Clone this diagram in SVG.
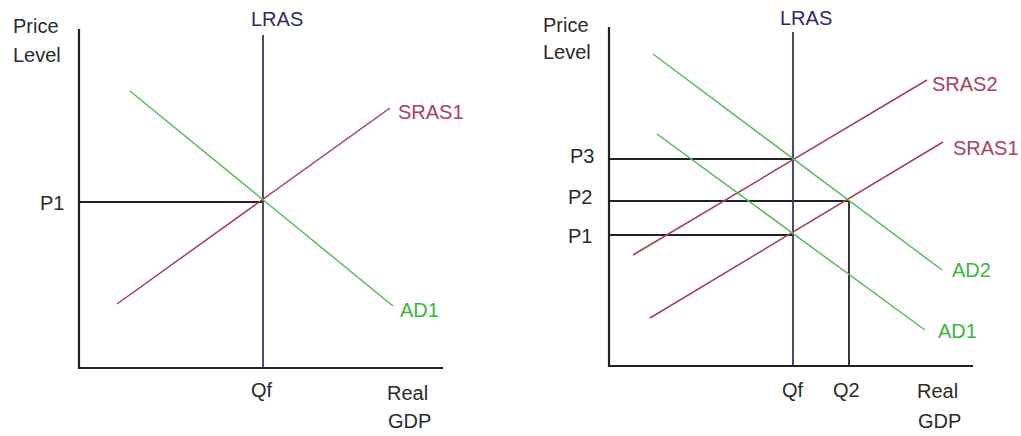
<svg xmlns="http://www.w3.org/2000/svg" width="1021" height="436" viewBox="0 0 1021 436">
<style>
text{font-family:"Liberation Sans",Arial,sans-serif;font-size:20px;fill:#2a2a2a}
.ax{stroke:#222;stroke-width:2.2;fill:none}
.ref{stroke:#222;stroke-width:1.8;fill:none}
.lras{stroke:#36366e;stroke-width:1.8;fill:none}
.sras{stroke:#a8404e;stroke-width:1.5;fill:none}
.ad{stroke:#5cba5c;stroke-width:1.5;fill:none}
text.tl{fill:#2d2d66}
text.ts{fill:#a8425a}
text.ta{fill:#3cb43c}
</style>
<rect width="1021" height="436" fill="#fff"/>
<g id="left-chart">
  <g id="connectors-left">
    <line class="ref" x1="79" y1="202" x2="263" y2="202"/>
    <line class="lras" x1="263" y1="35" x2="263" y2="367"/>
    <line class="sras" x1="117" y1="304" x2="390" y2="108"/>
    <line class="ad" x1="130" y1="91" x2="393" y2="306"/>
    <path class="ax" d="M79 29 V368 H443"/>
  </g>
  <g id="left-labels">
    <text x="13" y="33">Price</text>
    <text x="13" y="62">Level</text>
    <text class="tl" x="251" y="26">LRAS</text>
    <text x="40" y="210">P1</text>
    <text class="ts" x="398" y="119">SRAS1</text>
    <text class="ta" x="400" y="317">AD1</text>
    <text x="251" y="397">Qf</text>
    <text x="387" y="400">Real</text>
    <text x="388" y="428">GDP</text>
  </g>
</g>
<g id="right-chart">
  <g id="connectors-right">
    <line class="ref" x1="609" y1="159" x2="793" y2="159"/>
    <line class="ref" x1="609" y1="201" x2="849" y2="201"/>
    <line class="ref" x1="609" y1="235" x2="793" y2="235"/>
    <line class="ref" x1="849" y1="201" x2="849" y2="365"/>
    <line class="lras" x1="793" y1="32" x2="793" y2="365"/>
    <line class="sras" x1="633" y1="255" x2="927" y2="80"/>
    <line class="sras" x1="650" y1="318" x2="943" y2="142"/>
    <line class="ad" x1="653" y1="54" x2="942" y2="270"/>
    <line class="ad" x1="657" y1="134" x2="925" y2="330"/>
    <path class="ax" d="M609 27 V366 H973"/>
  </g>
  <g id="right-labels">
    <text x="543" y="32">Price</text>
    <text x="543" y="59">Level</text>
    <text class="tl" x="780" y="25">LRAS</text>
    <text x="570" y="163">P3</text>
    <text x="568" y="204">P2</text>
    <text x="568" y="243">P1</text>
    <text class="ts" x="932" y="91">SRAS2</text>
    <text class="ts" x="953" y="155">SRAS1</text>
    <text class="ta" x="952" y="277">AD2</text>
    <text class="ta" x="938" y="338">AD1</text>
    <text x="782" y="397">Qf</text>
    <text x="833" y="397">Q2</text>
    <text x="917" y="398">Real</text>
    <text x="918" y="428">GDP</text>
  </g>
</g>
</svg>
